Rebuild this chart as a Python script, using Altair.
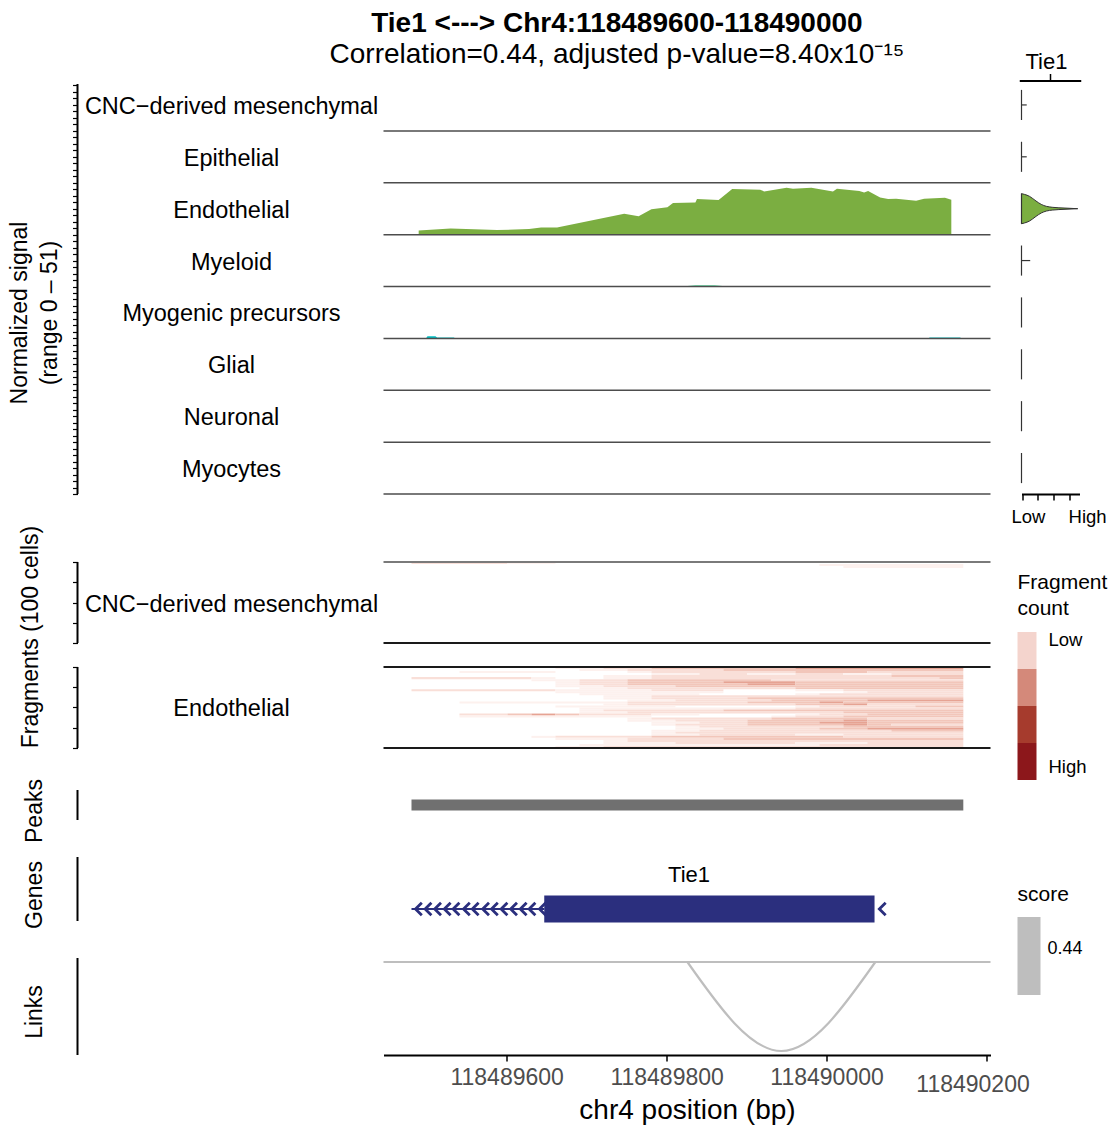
import altair as alt
import pandas as pd

FONT = "Liberation Sans"

# ------------------------------------------------------------------ data
groups = ["CNC\u2212derived mesenchymal", "Epithelial", "Endothelial", "Myeloid",
          "Myogenic precursors", "Glial", "Neuronal", "Myocytes"]
group_colors = ["#F8766D", "#CD9600", "#7BAE41", "#00BE67",
                "#00BFC4", "#00A9FF", "#C77CFF", "#FF61CC"]
signal_max = 51

region = [118489446, 118490205]
x_ticks = [118489600, 118489800, 118490000, 118490200]

# normalized coverage (position bp, signal)
endo_pos = [118489490, 118489530, 118489588, 118489628, 118489643, 118489663,
            118489747, 118489765, 118489781, 118489801, 118489808, 118489836,
            118489838, 118489865, 118489882, 118489917, 118489922, 118489950,
            118489958, 118489981, 118490008, 118490013, 118490041, 118490047,
            118490052, 118490067, 118490077, 118490087, 118490112, 118490122,
            118490148, 118490156]
endo_sig = [4, 6, 4.5, 5.5, 7, 7, 20.5, 18, 25, 27, 31, 31.7, 35, 34, 44.8, 44,
            42.5, 46, 45, 46, 42.5, 45, 43, 41.5, 43, 36.6, 35, 35.3, 33.3, 35.3,
            36.3, 34.3]
epi_pos = [118489735, 118489760, 118489960, 118489985]
epi_sig = [0, 0.4, 0.4, 0]
myel_pos = [118489496, 118489502, 118489612, 118489618, 118489741, 118489747,
            118489826, 118489836, 118489860, 118489870, 118489935, 118489941,
            118490001, 118490007, 118490097, 118490103]
myel_sig = [0, 0.4, 0.4, 0, 0, 0.4, 0.5, 1.0, 1.0, 0.5, 0.4, 0, 0, 0.4, 0.4, 0]
myo_pos = [118489499, 118489501, 118489511, 118489513, 118489534, 118489536,
           118490127, 118490129, 118490167, 118490169]
myo_sig = [0, 2.0, 2.0, 0.8, 0.8, 0, 0, 0.8, 0.8, 0]
glial_pos = [118489628, 118489640, 118489890, 118489903]
glial_sig = [0, 0.3, 0.3, 0]

# expression violin (Tie1): x = scaled expression, half width in row units
violin_x = [0, 0.05, 0.14, 0.25, 0.34, 0.43, 0.54, 0.75, 0.97]
violin_halfwidth = [0.29, 0.276, 0.237, 0.148, 0.083, 0.045, 0.026, 0.012, 0.0]
violin_tail = [0.09, 0.09, 0.0, 0.15, 0.0, 0.0, 0.0, 0.0]
violin_ticks = [0.01, 0.28, 0.55, 0.82]
violin_labels = ["Low", "High"]
violin_label_pos = [0.12, 1.14]

# fragments: one string per group of cells, one char per 30 bp bin (0 = none .. 4 = most)
frag_start = 118489481
frag_bin = 30
frag_nbins = 23
cells_per_row = 2.5
frag_cnc_rows = [
    "22221100000000000000000",
    "00000000000000000111111",
    "00000000000000000011111",
]
frag_endo_rows = [
    "00000011223333334444444",
    "00000001122223333333333",
    "00111100012222223332222",
    "00000000001122112211222",
    "00000000112222222222333",
    "22222100112222222222223",
    "00000112233333322222222",
    "00000012233334443333333",
    "00000012233333443333333",
    "00000011222333333333333",
    "00000001122222223333333",
    "22222211112220001122222",
    "00000011111110000012222",
    "00000001111100001222222",
    "00000000112222222222222",
    "00000000112222333333333",
    "00000000011222233334444",
    "00111111122222333433333",
    "00000000122222223342222",
    "00000011111000001222233",
    "00000001111111112222222",
    "00000001222223333333333",
    "00000001122222222233333",
    "00223432221100001223333",
    "00111111110000012233333",
    "00000000012222233332222",
    "00000000011222333343333",
    "00000000001122333443333",
    "00000000001222333343222",
    "00000000000122222233333",
    "00000000000112222334444",
    "00000000001122222222333",
    "00000000001222222222222",
    "00000000001122221122222",
    "00000122223333333322222",
    "00000011122223333333333",
    "00000000122222222222222",
    "00000000111222221112222",
    "00000001111111111222222",
    "00000011222222222222222",
]
frag_level_colors = ["#FDF1EE", "#F9DFD8", "#F2C6BA", "#E6A393"]
frag_legend_labels = ["Low", "", "", "High"]
frag_legend_colors = ["#F4D4CD", "#D4897A", "#A63B2D", "#8C171B"]

peak = [118489481, 118490171]

gene_name = "Tie1"
gene_label_pos = 118489828
intron = [118489481, 118489647]
exon = [118489647, 118490060]
chevron_pos = [118489486, 118489498, 118489510, 118489522, 118489533, 118489546,
               118489557, 118489570, 118489581, 118489593, 118489605, 118489617,
               118489628, 118489641, 118490066]

link = [118489826, 118490061]
link_score = 0.44
link_depth = 1.0

corr = 0.44
padj_mantissa = "8.40"
padj_exponent = "\u207b\u00b9\u2075"

# ------------------------------------------------------------------ layout
W0, W1, W2 = 275, 607, 58
COLSP = 31
HA, HB1, HB2, HC, HD, HE = 415, 149, 105, 72, 101, 134
BLACK = "#1A1A1A"
NAVY = "#2B2F7E"

xs = alt.Scale(domain=region, nice=False, zero=False)
ysA = alt.Scale(domain=[0, 8 * signal_max], nice=False, zero=False)
ysB1 = alt.Scale(domain=[-84, 100], reverse=True, nice=False, zero=False)
ysB2 = alt.Scale(domain=[-29.6, 100], reverse=True, nice=False, zero=False)
ysC = alt.Scale(domain=[-1.4, 1], reverse=True, nice=False, zero=False)
ysD = alt.Scale(domain=[-0.578125, 1], reverse=True, nice=False, zero=False)
ysE = alt.Scale(domain=[-1.045, 0.4607], nice=False, zero=False)
vx = alt.Scale(domain=[0, 1], nice=False, zero=False)
vy = alt.Scale(domain=[0, 8], reverse=True, nice=False, zero=False)


def xenc(field="pos", axis=None):
    return alt.X(f"{field}:Q", scale=xs, axis=axis)


def empty(h, w):
    return alt.Chart(pd.DataFrame({"a": [0]})).mark_point(opacity=0).encode(
        x=alt.value(0), y=alt.value(0)).properties(width=w, height=h)


def left_axis(scale, top, bottom, h, ticks=None, title=None, title_y=None,
              title_x=-43, labels=None):
    ax = alt.Axis(values=ticks if ticks else [], labels=False, domain=False,
                  ticks=bool(ticks), tickSize=5, tickColor="black", tickWidth=1.2,
                  title=None, grid=False)
    line = alt.Chart(pd.DataFrame({"y0": [top], "y1": [bottom]})).mark_rule(
        color="black", strokeWidth=2).encode(
        x=alt.value(0), y=alt.Y("y0:Q", scale=scale, axis=ax), y2="y1:Q")
    layers = [line]
    if labels is not None:
        layers.append(alt.Chart(labels).mark_text(
            font=FONT, fontSize=23.5, color="black", align="center",
            baseline="middle", dy=2).encode(
            x=alt.value(154), y=alt.Y("mid:Q", scale=scale, axis=ax), text="lab:N"))
    if title is not None:
        layers.append(alt.Chart(pd.DataFrame({"a": [0]})).mark_text(
            font=FONT, fontSize=23, color="black", angle=270, align="center",
            baseline="middle", lineHeight=30, text=title).encode(
            x=alt.value(title_x), y=alt.value(title_y)))
    return alt.layer(*layers).properties(width=W0, height=h)


# ---------------- row A: coverage
tracks = {
    groups[1]: (epi_pos, epi_sig),
    groups[2]: (endo_pos, endo_sig),
    groups[3]: (myel_pos, myel_sig),
    groups[4]: (myo_pos, myo_sig),
    groups[5]: (glial_pos, glial_sig),
}
cov_rows = []
for gi, g in enumerate(groups):
    if g not in tracks:
        continue
    base = (7 - gi) * signal_max
    for p, s in zip(*tracks[g]):
        cov_rows.append({"group": g, "pos": p, "top": base + s, "base": base})
cov_df = pd.DataFrame(cov_rows)

area = alt.Chart(cov_df).mark_area(interpolate="linear").encode(
    x=xenc(), y=alt.Y("top:Q", scale=ysA, axis=None), y2="base:Q",
    color=alt.Color("group:N", scale=alt.Scale(domain=groups, range=group_colors),
                    legend=None))
base_df = pd.DataFrame({"base": [(7 - i) * signal_max for i in range(8)]})
baselines = alt.Chart(base_df).mark_rule(color="#4D4D4D", strokeWidth=1.5).encode(
    y=alt.Y("base:Q", scale=ysA, axis=None))
a1 = alt.layer(area, baselines).properties(width=W1, height=HA)

labA = pd.DataFrame({"lab": groups,
                     "mid": [(7 - i) * signal_max + signal_max / 2 for i in range(8)]})
ticksA = [i * signal_max / 8 for i in range(64)]
a0 = left_axis(ysA, 0, 403, HA, ticks=ticksA,
               title=["Normalized signal", "(range 0 \u2013 51)"], title_y=234,
               title_x=-58, labels=labA)

# violin
vrows = pd.DataFrame({"group": groups, "x0": 0.0,
                      "lo": [i + 0.5 - 0.29 for i in range(8)],
                      "hi": [i + 0.5 + 0.29 for i in range(8)],
                      "c": [i + 0.5 for i in range(8)],
                      "tail": violin_tail})
bottom_ax = alt.Axis(values=violin_ticks, labels=False, ticks=True, tickSize=6,
                     tickColor="black", tickWidth=1.5, domainColor="black",
                     domainWidth=2, title=None, grid=False)
vlines = alt.Chart(vrows).mark_rule(color="#333333", strokeWidth=1.2).encode(
    x=alt.X("x0:Q", scale=vx, axis=bottom_ax), y=alt.Y("lo:Q", scale=vy, axis=None),
    y2="hi:Q")
vtails = alt.Chart(vrows[vrows["tail"] > 0]).mark_rule(color="#333333", strokeWidth=1.2).encode(
    x=alt.X("x0:Q", scale=vx, axis=bottom_ax), x2="tail:Q",
    y=alt.Y("c:Q", scale=vy, axis=None))
endo_i = groups.index("Endothelial")
vshape = pd.DataFrame({"x": violin_x,
                       "lo": [endo_i + 0.5 - h for h in violin_halfwidth],
                       "hi": [endo_i + 0.5 + h for h in violin_halfwidth]})
varea = alt.Chart(vshape).mark_area(color=group_colors[endo_i], stroke="#333333",
                                    strokeWidth=1, interpolate="monotone").encode(
    x=alt.X("x:Q", scale=vx, axis=bottom_ax), y=alt.Y("lo:Q", scale=vy, axis=None),
    y2="hi:Q")
top_df = pd.DataFrame({"a": [-0.03], "b": [1.03], "t": [0.5]})
top_line = alt.Chart(top_df).mark_rule(color="black", strokeWidth=2).encode(
    x=alt.X("a:Q", scale=vx, axis=bottom_ax), x2="b:Q", y=alt.value(2))
top_tick = alt.Chart(top_df).mark_rule(color="black", strokeWidth=1.5).encode(
    x=alt.X("t:Q", scale=vx, axis=bottom_ax), y=alt.value(-5), y2=alt.value(2))
top_title = alt.Chart(pd.DataFrame({"lab": [gene_name], "t": [0.43]})).mark_text(
    font=FONT, fontSize=22, color="black", baseline="middle").encode(
    x=alt.X("t:Q", scale=vx, axis=bottom_ax), y=alt.value(-17), text="lab:N")
vlab = alt.Chart(pd.DataFrame({"lab": violin_labels, "p": violin_label_pos})).mark_text(
    font=FONT, fontSize=18.5, color="black", baseline="middle").encode(
    x=alt.X("p:Q", scale=vx, axis=bottom_ax), y=alt.value(HA + 23), text="lab:N")
a2 = alt.layer(varea, vlines, vtails, top_line, top_tick, top_title, vlab).properties(
    width=W2, height=HA)


# ---------------- rows B: fragments
def heat_df(rows):
    out = []
    for r, s in enumerate(rows):
        s = s[:frag_nbins].ljust(frag_nbins, "0")
        k = 0
        while k < frag_nbins:
            j = k
            while j + 1 < frag_nbins and s[j + 1] == s[k]:
                j += 1
            lv = int(s[k])
            if lv > 0:
                out.append({"x0": frag_start + k * frag_bin,
                            "x1": frag_start + (j + 1) * frag_bin,
                            "c0": r * cells_per_row, "c1": (r + 1) * cells_per_row,
                            "lvl": lv})
            k = j + 1
    return pd.DataFrame(out)


def frag_panel(rows, scale, h, top_color):
    heat = alt.Chart(heat_df(rows)).mark_rect(strokeWidth=0).encode(
        x=alt.X("x0:Q", scale=xs, axis=None), x2="x1:Q",
        y=alt.Y("c0:Q", scale=scale, axis=None), y2="c1:Q",
        color=alt.Color("lvl:O", scale=alt.Scale(domain=[1, 2, 3, 4],
                                                  range=frag_level_colors),
                        legend=None))
    borders = alt.Chart(pd.DataFrame({"c": [0, 100], "col": [top_color, BLACK]})).mark_rule(
        strokeWidth=2).encode(y=alt.Y("c:Q", scale=scale, axis=None),
                              color=alt.Color("col:N", scale=None))
    return alt.layer(heat, borders).properties(width=W1, height=h)


b11 = frag_panel(frag_cnc_rows, ysB1, HB1, "#7A7A7A")
b21 = frag_panel(frag_endo_rows, ysB2, HB2, BLACK)
b10 = left_axis(ysB1, 0, 100, HB1, ticks=[0, 25, 50, 75, 100],
                title="Fragments (100 cells)", title_y=143, title_x=-47,
                labels=pd.DataFrame({"lab": [groups[0]], "mid": [50]}))
b20 = left_axis(ysB2, 0, 100, HB2, ticks=[0, 25, 50, 75, 100],
                labels=pd.DataFrame({"lab": ["Endothelial"], "mid": [50]}))

# fragment legend (guide)
fl = pd.DataFrame({"col": frag_legend_colors,
                   "y0": [138 + 37 * i for i in range(4)],
                   "y1": [175 + 37 * i for i in range(4)]})
fl_lab = pd.DataFrame({"lab": [frag_legend_labels[0], frag_legend_labels[-1]],
                       "ly": [146, 273]})
fl_rect = alt.Chart(fl).mark_rect().encode(
    x=alt.value(-4), x2=alt.value(15),
    y=alt.Y("y0:Q", scale=None), y2="y1:Q", color=alt.Color("col:N", scale=None))
fl_text = alt.Chart(fl_lab).mark_text(
    font=FONT, fontSize=18.5, color="black", align="left", baseline="middle").encode(
    x=alt.value(27), y=alt.Y("ly:Q", scale=None), text="lab:N")
fl_title = alt.Chart(pd.DataFrame({"a": [0]})).mark_text(
    font=FONT, fontSize=21, color="black", align="left", baseline="middle",
    lineHeight=26, text=["Fragment", "count"]).encode(x=alt.value(-4), y=alt.value(89))
b12 = alt.layer(fl_rect, fl_text, fl_title).properties(width=W2, height=HB1)
b22 = empty(HB2, W2)

# ---------------- row C: peaks
pk = pd.DataFrame({"s": [peak[0]], "e": [peak[1]], "lane": [0.5]})
c1 = alt.Chart(pk).mark_rule(color="#707070", strokeWidth=11, strokeCap="butt").encode(
    x=xenc("s"), x2="e:Q", y=alt.Y("lane:Q", scale=ysC, axis=None)).properties(
    width=W1, height=HC)
c0 = left_axis(ysC, 0, 1, HC, title="Peaks", title_y=63, title_x=-43)
c2 = empty(HC, W2)

# ---------------- row D: genes
GLANE, LLANE = 0.8125, 0.28
g_intron = alt.Chart(pd.DataFrame({"s": [intron[0]], "e": [intron[1]], "lane": [GLANE]})).mark_rule(
    color=NAVY, strokeWidth=2).encode(x=xenc("s"), x2="e:Q",
                                      y=alt.Y("lane:Q", scale=ysD, axis=None))
g_chev = alt.Chart(pd.DataFrame({"pos": chevron_pos, "lane": GLANE})).mark_point(
    shape="M1,-1L0,0L1,1", filled=False, size=160, strokeWidth=2.8, color=NAVY,
    opacity=1).encode(x=xenc(), y=alt.Y("lane:Q", scale=ysD, axis=None))
g_exon = alt.Chart(pd.DataFrame({"s": [exon[0]], "e": [exon[1]], "lane": [GLANE]})).mark_rule(
    color=NAVY, strokeWidth=27, strokeCap="butt").encode(
    x=xenc("s"), x2="e:Q", y=alt.Y("lane:Q", scale=ysD, axis=None))
g_lab = alt.Chart(pd.DataFrame({"pos": [gene_label_pos], "lane": [LLANE], "lab": [gene_name]})).mark_text(
    font=FONT, fontSize=22, color="black", baseline="middle").encode(
    x=xenc(), y=alt.Y("lane:Q", scale=ysD, axis=None), text="lab:N")
d1 = alt.layer(g_intron, g_chev, g_exon, g_lab).properties(width=W1, height=HD)
d0 = left_axis(ysD, 0, 1, HD, title="Genes", title_y=75, title_x=-43)

sc = pd.DataFrame({"lab": [f"{link_score:.2f}"], "col": ["#BEBEBE"]})
s_rect = alt.Chart(sc).mark_rect().encode(
    x=alt.value(-4), x2=alt.value(19), y=alt.value(97), y2=alt.value(175),
    color=alt.Color("col:N", scale=None))
s_text = alt.Chart(sc).mark_text(font=FONT, fontSize=18, color="black", align="left",
                                 baseline="middle").encode(
    x=alt.value(26), y=alt.value(129), text="lab:N")
s_title = alt.Chart(pd.DataFrame({"lab": ["score"]})).mark_text(
    font=FONT, fontSize=21, color="black", align="left", baseline="middle").encode(
    x=alt.value(-4), y=alt.value(75), text="lab:N")
d2 = alt.layer(s_rect, s_text, s_title).properties(width=W2, height=HD)

# ---------------- row E: links + x axis
last_tick = f"datum.value == {x_ticks[-1]}"
x_axis = alt.Axis(values=x_ticks, format="d", title="chr4 position (bp)",
                  titleFont=FONT, titleFontSize=28, titleFontWeight="normal",
                  titleColor="black", titlePadding=0,
                  labelFont=FONT, labelFontSize=23, labelColor="#4D4D4D",
                  labelPadding={"condition": {"test": last_tick, "value": 12}, "value": 5},
                  labelOffset={"condition": {"test": last_tick, "value": -14}, "value": 0},
                  labelFlush=False, labelOverlap=False,
                  tickSize=6, tickWidth=1.5, tickColor="black",
                  domainColor="black", domainWidth=2, grid=False)
ln = pd.DataFrame({"pos": [region[0]], "e": [region[1]], "lane": [0.0]})
l_line = alt.Chart(ln).mark_rule(color="#BEBEBE", strokeWidth=2.2).encode(
    x=alt.X("pos:Q", scale=xs, axis=x_axis), x2="e:Q",
    y=alt.Y("lane:Q", scale=ysE, axis=None))
arc = pd.DataFrame({"pos": [link[0], (link[0] + link[1]) / 2, link[1]],
                    "lane": [0.0, -link_depth, 0.0]})
l_arc = alt.Chart(arc).mark_line(color="#BEBEBE", strokeWidth=2.2,
                                 interpolate="natural").encode(
    x=alt.X("pos:Q", scale=xs, axis=x_axis), y=alt.Y("lane:Q", scale=ysE, axis=None))
e1 = alt.layer(l_line, l_arc).properties(width=W1, height=HE)
e0 = left_axis(ysE, 0.045, -1.045, HE, title="Links", title_y=91, title_x=-43)
e2 = empty(HE, W2)

subtitle = f"Correlation={corr:.2f}, adjusted p-value={padj_mantissa}x10{padj_exponent}"

chart = alt.concat(
    a0, a1, a2,
    b10, b11, b12,
    b20, b21, b22,
    c0, c1, c2,
    d0, d1, d2,
    e0, e1, e2,
    columns=3, spacing={"row": 0, "column": COLSP}, bounds="flush", align="each",
    title=alt.TitleParams(
        text="Tie1 <---> Chr4:118489600-118490000", subtitle=subtitle,
        font=FONT, fontSize=28, fontWeight="bold", color="black",
        subtitleFont=FONT, subtitleFontSize=28, subtitleColor="black",
        subtitlePadding=3, anchor="middle", offset=-18, dx=59),
).resolve_scale(x="independent", y="independent", color="independent").properties(
    padding={"left": 8.5, "top": 10, "right": 5, "bottom": 4}
).configure(font=FONT).configure_view(stroke=None, strokeWidth=0)

chart.save("out.html", embed_options={"renderer": "svg", "actions": False})
